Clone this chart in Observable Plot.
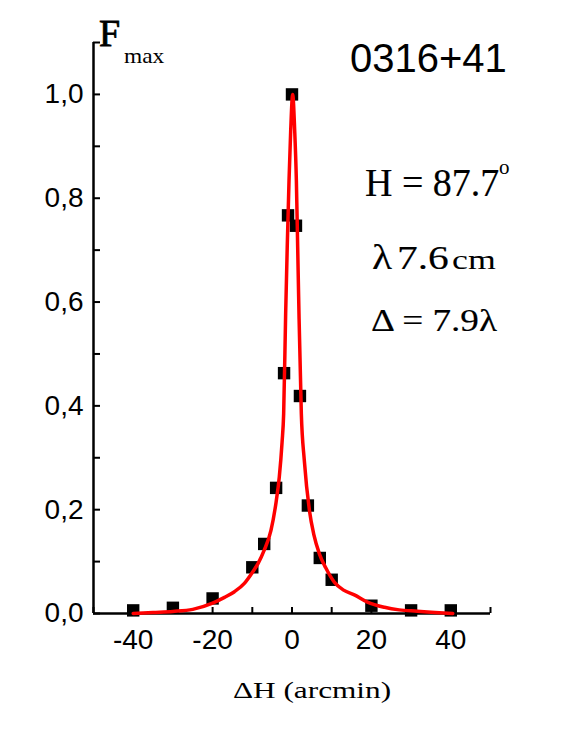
<!DOCTYPE html>
<html><head><meta charset="utf-8">
<script src="https://cdn.jsdelivr.net/npm/d3@7"></script>
<script src="https://cdn.jsdelivr.net/npm/@observablehq/plot@0.6"></script>
<style>body{margin:0;background:#fff}</style>
</head><body><div id="chart"></div>
<script>
// Measured points (ΔH in arcmin, normalized Fmax)
const pointX = [-40, -30, -20, -10, -7, -4, -2, -1, 0, 1, 2, 4, 7, 10, 20, 30, 40];
const pointY = [0.006, 0.011, 0.029, 0.089, 0.134, 0.242, 0.463, 0.767, 1.0, 0.747, 0.419, 0.208, 0.107, 0.065, 0.015, 0.006, 0.006];

// Fitted curve
const fitX = [-40, -35, -30, -25, -20, -17, -14.5, -12, -10, -8.5, -7, -5.3, -4, -3.2, -2.5, -2.1, -1.6, -1.2, -0.75, -0.33, 0.17, 0.68, 1.1, 1.43, 1.76, 2.35, 3.1, 4.4, 5.5, 6.9, 8.5, 10.7, 13, 15.7, 19, 23.3, 27, 31.6, 36, 40.5];
const fitY = [0.0, 0.002, 0.004, 0.008, 0.02, 0.031, 0.042, 0.058, 0.079, 0.097, 0.122, 0.16, 0.215, 0.263, 0.33, 0.385, 0.577, 0.706, 0.834, 0.93, 1.0, 0.93, 0.834, 0.706, 0.577, 0.385, 0.295, 0.198, 0.152, 0.115, 0.088, 0.06, 0.045, 0.036, 0.022, 0.012, 0.007, 0.0045, 0.002, 0.0];

const xTicks = [-50, -40, -30, -20, -10, 0, 10, 20, 30, 40, 50];
const yTicks = [0, 0.1, 0.2, 0.3, 0.4, 0.5, 0.6, 0.7, 0.8, 0.9, 1.0, 1.1];

const points = pointX.map((x, i) => ({x, y: pointY[i]}));
const fit = fitX.map((x, i) => ({x, y: fitY[i]}));

const chart = Plot.plot({
  width: 572, height: 740,
  marginLeft: 93, marginRight: 82, marginTop: 42, marginBottom: 127,
  style: {fontFamily: "'Liberation Sans', Arial, sans-serif", fontSize: "28px", background: "#fff", color: "#000", overflow: "visible"},
  x: {domain: [-50, 50]},
  y: {domain: [0, 1.1]},
  marks: [
    Plot.axisX(xTicks, {tickSize: -6, tickPadding: 22, strokeWidth: 2, label: null,
      tickFormat: d => (d % 20 === 0 ? String(d) : ""), fontSize: 28}),
    Plot.axisY(yTicks, {tickSize: -7, tickPadding: 17, strokeWidth: 2, label: null,
      tickFormat: d => (Math.round(d * 10) % 2 === 0 ? d.toFixed(1).replace(".", ",") : ""), fontSize: 28}),
    Plot.ruleX([-50], {y1: 0, y2: 1.1, strokeWidth: 2.5}),
    Plot.ruleY([0], {x1: -50, x2: 50, strokeWidth: 2.5}),
    Plot.dot(points, {x: "x", y: "y", symbol: "square", r: 7, fill: "#000", stroke: "none"}),
    Plot.line(fit, {x: "x", y: "y", stroke: "#ff0000", strokeWidth: 3.5, curve: "monotone-x"})
  ]
});
document.getElementById("chart").appendChild(chart);

const svg = d3.select(chart);
const serif = "'Liberation Serif', 'Times New Roman', serif";
const sans = "'Liberation Sans', Arial, sans-serif";
function addText(str, x, y, size, family, sx, anchor, sw) {
  svg.append("text")
    .attr("transform", `translate(${x},${y}) scale(${sx},1)`)
    .attr("font-family", family)
    .attr("font-size", size)
    .attr("text-anchor", anchor || "start")
    .attr("fill", "#000")
    .attr("stroke", sw ? "#000" : "none")
    .attr("stroke-width", sw || 0)
    .text(str);
}
addText("F", 99, 46, 38, serif, 1.0, "start", 0.8);
addText("max", 124, 63, 20, serif, 1.17);
addText("0316+41", 350, 72, 40, sans, 1.0);
addText("H = 87.7", 365, 196, 40, serif, 0.95, "start", 0.15);
addText("o", 499, 174, 21, serif, 1.0);
addText("λ", 372, 269, 36, serif, 1.15, "start", 0.15);
addText("7.6", 397, 269, 34, serif, 1.22, "start", 0.15);
addText("cm", 452, 269, 28, serif, 1.28);
addText("Δ = 7.9λ", 371, 331, 31, serif, 1.2, "start", 0.15);
addText("ΔH (arcmin)", 312, 698, 23, serif, 1.36, "middle");
</script>
</body></html>
